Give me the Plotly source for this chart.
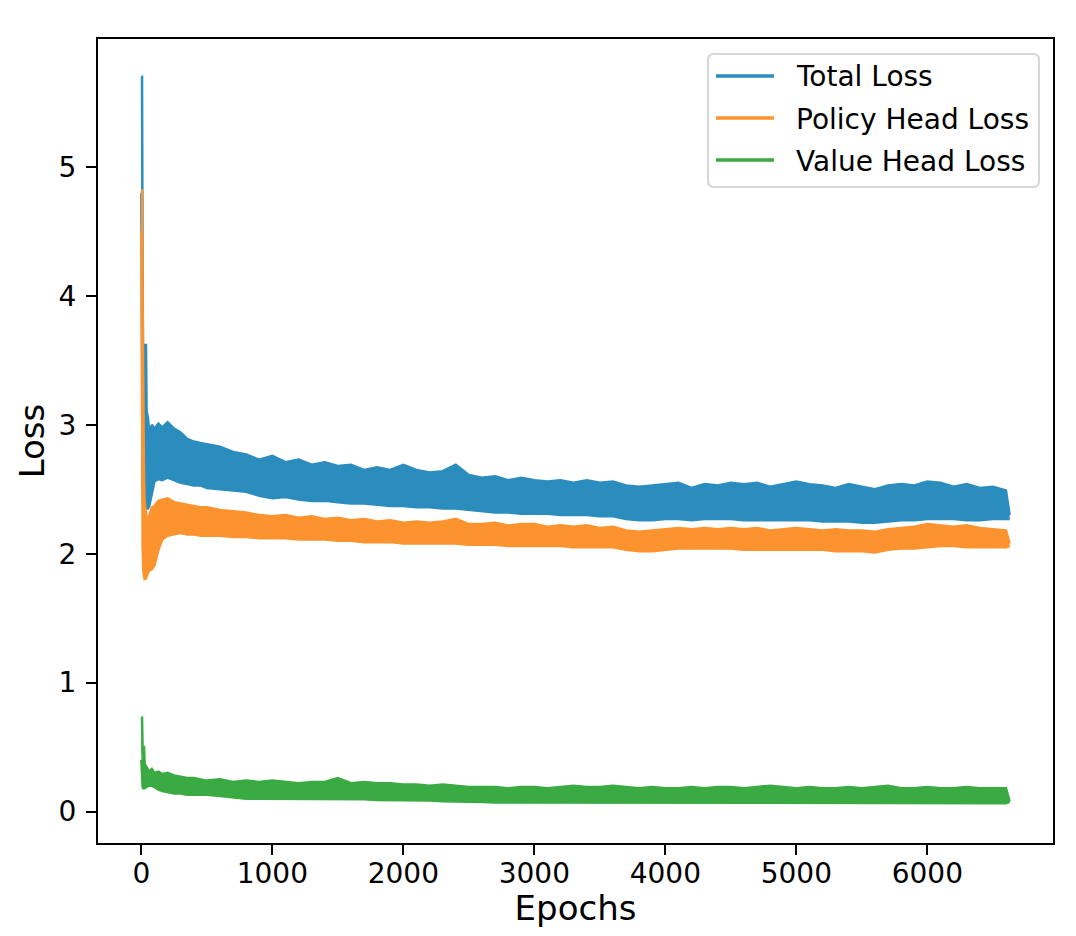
import plotly.graph_objects as go

epochs = [0, 5, 10, 15, 20, 25, 35, 40, 50, 60, 80, 100, 130, 160, 200, 250, 300, 350, 400, 450,
          500, 600, 700, 800, 900, 1000, 1100, 1200, 1300, 1400, 1500, 1600, 1700, 1800, 1900,
          2000, 2100, 2200, 2300, 2400, 2500, 2600, 2700, 2800, 2900, 3000, 3100, 3200, 3300,
          3400, 3500, 3600, 3700, 3800, 3900, 4000, 4100, 4200, 4300, 4400, 4500, 4600, 4700,
          4800, 4900, 5000, 5100, 5200, 5300, 5400, 5500, 5600, 5700, 5800, 5900, 6000, 6100,
          6200, 6300, 6400, 6500, 6600, 6628]

# total loss: top and bottom of the noisy band
total_hi = [5.70, 5.70, 4.00, 3.20, 3.30, 3.62, 3.62, 3.10, 3.06, 2.94, 3.00, 2.97, 3.01, 2.98, 3.02,
            2.97, 2.94, 2.89, 2.87, 2.86, 2.85, 2.83, 2.79, 2.77, 2.73, 2.76, 2.71, 2.73, 2.69,
            2.71, 2.68, 2.69, 2.65, 2.67, 2.65, 2.69, 2.65, 2.63, 2.64, 2.69, 2.61, 2.59, 2.60,
            2.57, 2.59, 2.57, 2.56, 2.57, 2.55, 2.57, 2.55, 2.56, 2.53, 2.52, 2.53, 2.54, 2.55,
            2.51, 2.54, 2.53, 2.55, 2.54, 2.55, 2.52, 2.54, 2.56, 2.54, 2.53, 2.51, 2.54, 2.52,
            2.50, 2.53, 2.54, 2.53, 2.56, 2.55, 2.52, 2.54, 2.51, 2.52, 2.49, 2.30]
total_lo = [4.80, 2.90, 2.50, 2.36, 2.35, 2.35, 2.35, 2.35, 2.35, 2.37, 2.46, 2.56, 2.58, 2.57, 2.59,
            2.57, 2.55, 2.54, 2.53, 2.53, 2.51, 2.50, 2.49, 2.48, 2.45, 2.43, 2.44, 2.42, 2.41,
            2.41, 2.40, 2.39, 2.39, 2.38, 2.37, 2.37, 2.36, 2.36, 2.35, 2.35, 2.34, 2.33, 2.32,
            2.32, 2.31, 2.31, 2.31, 2.30, 2.30, 2.30, 2.29, 2.29, 2.27, 2.26, 2.26, 2.27, 2.27,
            2.26, 2.27, 2.27, 2.27, 2.26, 2.26, 2.26, 2.26, 2.26, 2.26, 2.25, 2.25, 2.25, 2.24,
            2.24, 2.25, 2.26, 2.26, 2.27, 2.27, 2.27, 2.26, 2.26, 2.27, 2.27, 2.27]

# policy head loss
policy_hi = [4.82, 4.82, 3.90, 3.00, 2.60, 2.40, 2.30, 2.28, 2.26, 2.30, 2.36, 2.37, 2.41, 2.42, 2.43,
             2.40, 2.39, 2.38, 2.37, 2.36, 2.36, 2.34, 2.33, 2.32, 2.30, 2.29, 2.30, 2.28, 2.29,
             2.27, 2.28, 2.26, 2.27, 2.25, 2.26, 2.24, 2.25, 2.24, 2.25, 2.27, 2.23, 2.23, 2.24,
             2.22, 2.23, 2.23, 2.21, 2.22, 2.21, 2.22, 2.20, 2.21, 2.18, 2.17, 2.18, 2.19, 2.20,
             2.19, 2.20, 2.19, 2.20, 2.19, 2.20, 2.18, 2.19, 2.20, 2.19, 2.18, 2.19, 2.18, 2.18,
             2.17, 2.19, 2.20, 2.21, 2.23, 2.22, 2.21, 2.22, 2.20, 2.19, 2.18, 2.08]
policy_lo = [4.50, 2.28, 2.05, 1.86, 1.80, 1.80, 1.81, 1.83, 1.85, 1.87, 1.88, 1.91, 2.03, 2.11, 2.14,
             2.15, 2.16, 2.15, 2.15, 2.14, 2.14, 2.14, 2.13, 2.13, 2.12, 2.12, 2.12, 2.11, 2.11,
             2.11, 2.10, 2.10, 2.09, 2.09, 2.09, 2.08, 2.08, 2.08, 2.08, 2.08, 2.07, 2.07, 2.07,
             2.06, 2.06, 2.06, 2.06, 2.06, 2.05, 2.05, 2.05, 2.05, 2.03, 2.02, 2.02, 2.03, 2.04,
             2.04, 2.04, 2.04, 2.04, 2.03, 2.03, 2.03, 2.03, 2.03, 2.03, 2.03, 2.02, 2.02, 2.02,
             2.01, 2.03, 2.04, 2.04, 2.05, 2.06, 2.06, 2.05, 2.05, 2.05, 2.05, 2.06]

# value head loss
value_hi = [0.73, 0.73, 0.45, 0.51, 0.51, 0.37, 0.35, 0.34, 0.33, 0.31, 0.33, 0.30, 0.31, 0.29, 0.30,
            0.28, 0.27, 0.26, 0.26, 0.25, 0.24, 0.25, 0.23, 0.24, 0.23, 0.24, 0.23, 0.22, 0.23,
            0.23, 0.26, 0.22, 0.23, 0.22, 0.22, 0.21, 0.21, 0.20, 0.21, 0.20, 0.19, 0.19, 0.19,
            0.18, 0.19, 0.19, 0.18, 0.19, 0.20, 0.19, 0.19, 0.20, 0.19, 0.18, 0.19, 0.18, 0.18,
            0.19, 0.18, 0.19, 0.19, 0.18, 0.19, 0.20, 0.19, 0.18, 0.19, 0.18, 0.18, 0.19, 0.18,
            0.19, 0.20, 0.18, 0.18, 0.19, 0.18, 0.18, 0.19, 0.18, 0.18, 0.18, 0.08]
value_lo = [0.40, 0.21, 0.19, 0.18, 0.18, 0.18, 0.19, 0.19, 0.20, 0.20, 0.20, 0.19, 0.17, 0.16, 0.15,
            0.14, 0.14, 0.13, 0.13, 0.13, 0.13, 0.12, 0.11, 0.10, 0.10, 0.10, 0.10, 0.10, 0.10,
            0.10, 0.095, 0.095, 0.095, 0.09, 0.09, 0.09, 0.085, 0.085, 0.08, 0.08, 0.075, 0.075,
            0.07, 0.07, 0.065, 0.065, 0.065, 0.065, 0.065, 0.065, 0.065, 0.065, 0.065, 0.065,
            0.065, 0.065, 0.065, 0.065, 0.065, 0.065, 0.065, 0.065, 0.065, 0.065, 0.065, 0.065,
            0.065, 0.065, 0.065, 0.065, 0.065, 0.065, 0.065, 0.065, 0.065, 0.065, 0.065, 0.065,
            0.065, 0.065, 0.065, 0.065, 0.075]

names = ["Total Loss", "Policy Head Loss", "Value Head Loss"]
colors = ["#2b8cbe", "#fd932f", "#3aaa42"]
bands = [(total_lo, total_hi), (policy_lo, policy_hi), (value_lo, value_hi)]

fig = go.Figure()
for (lo, hi), c in zip(bands, colors):
    fig.add_trace(go.Scatter(x=epochs, y=lo, mode="lines", line=dict(color=c, width=2.5),
                             showlegend=False, hoverinfo="skip"))
    fig.add_trace(go.Scatter(x=epochs, y=hi, mode="lines", line=dict(color=c, width=2.5),
                             fill="tonexty", fillcolor=c, showlegend=False, hoverinfo="skip"))

# the page puts the figure 8px in from the corner, so work in window pixels minus 8
OFF = 8
W, H = 1076 - 2 * OFF, 936 - 2 * OFF
L, R, T, B = 98 - OFF, 1053 - OFF, 39 - OFF, 843 - OFF
def px(x):
    return (x - OFF - L) / (R - L)
def py(y):
    return (B - (y - OFF)) / (B - T)

# legend box with rounded corners
bx0, bx1, by0, by1, rad = px(708), px(1039), py(187), py(54), 6
rx, ry = rad / (R - L), rad / (B - T)
box = (f"M{bx0 + rx},{by0} L{bx1 - rx},{by0} Q{bx1},{by0} {bx1},{by0 + ry} "
       f"L{bx1},{by1 - ry} Q{bx1},{by1} {bx1 - rx},{by1} L{bx0 + rx},{by1} "
       f"Q{bx0},{by1} {bx0},{by1 - ry} L{bx0},{by0 + ry} Q{bx0},{by0} {bx0 + rx},{by0} Z")
shapes = [dict(type="path", path=box, xref="paper", yref="paper",
               line=dict(color="#d6d6d6", width=2), fillcolor="white", layer="above")]
annotations = []
for i, (n, c) in enumerate(zip(names, colors)):
    yl = 76 + 42 * i
    shapes.append(dict(type="line", xref="paper", yref="paper", x0=px(716), x1=px(774),
                       y0=py(yl), y1=py(yl), line=dict(color=c, width=3.5), layer="above"))
    annotations.append(dict(text=n, xref="paper", yref="paper", x=px(794), y=py(yl + 1),
                            xanchor="left", yanchor="middle", showarrow=False,
                            font=dict(size=28, color="black")))

axis_style = dict(showline=True, mirror=True, linecolor="black", linewidth=2.2,
                  ticks="outside", ticklen=10, tickwidth=2.2, tickcolor="black",
                  showgrid=False, zeroline=False, automargin=False,
                  tickfont=dict(size=28, color="black"))

fig.update_layout(
    width=W, height=H,
    margin=dict(l=L, r=W - R, t=T, b=H - B),
    paper_bgcolor="white", plot_bgcolor="white",
    font=dict(family="DejaVu Sans", size=28, color="black"),
    showlegend=False,
    xaxis=dict(range=[-331, 6959], tickvals=[0, 1000, 2000, 3000, 4000, 5000, 6000],
               ticklabelstandoff=-6, title=dict(text="Epochs", standoff=14), **axis_style),
    yaxis=dict(range=[-0.244, 5.993], tickvals=[0, 1, 2, 3, 4, 5],
               ticklabelstandoff=4, title=dict(text="Loss", standoff=4), **axis_style),
    shapes=shapes,
    annotations=annotations,
)

fig.write_html("out.html")
